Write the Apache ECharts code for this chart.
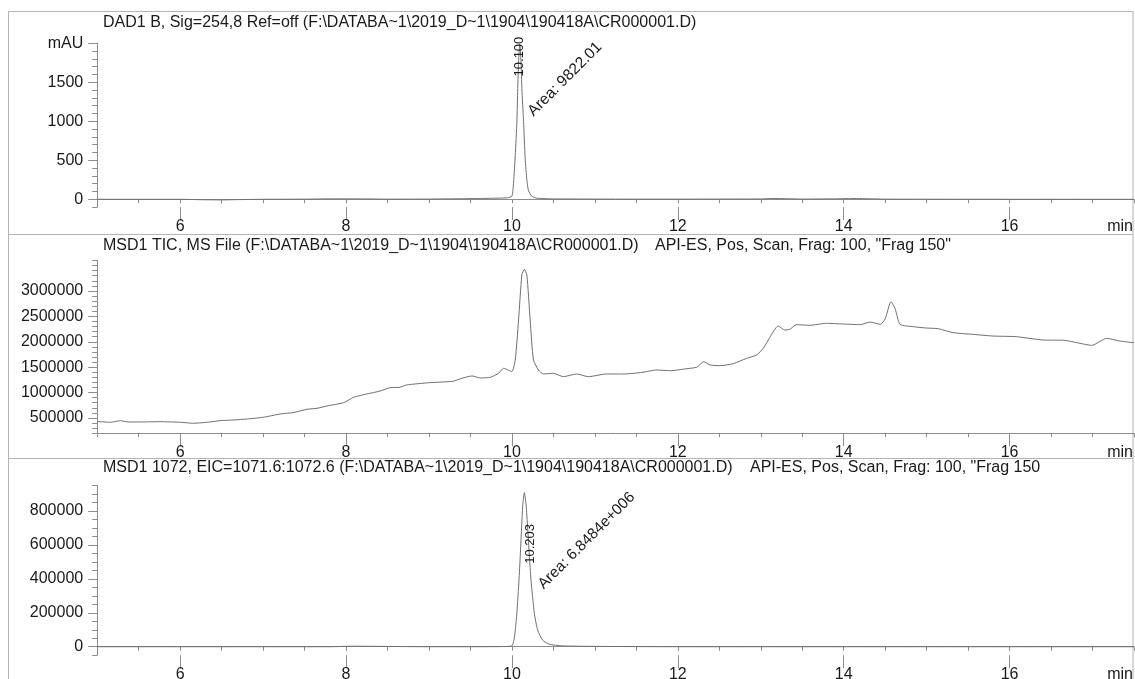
<!DOCTYPE html>
<html>
<head>
<meta charset="utf-8">
<title>Chromatogram</title>
<script src="https://cdn.jsdelivr.net/npm/echarts@6.0.0/dist/echarts.min.js"></script>
<style>
  html, body { margin: 0; padding: 0; background: #fff; }
  #chart { width: 1135px; height: 679px; }
</style>
</head>
<body>
<div id="chart"></div>
<script>
// ── Data ──
// retention time axis, minutes
const X_MIN = 5, X_MAX = 17.5, X_STEP = 0.5;
const X_MAJOR = ['6', '8', '10', '12', '14', '16'];

// DAD1 B, 254 nm
const DAD_T = [5.0, 5.5, 6.0, 6.3, 6.5, 6.7, 7.0, 7.5, 7.9, 8.2, 8.5, 9.0, 9.3, 9.6, 9.8, 9.95, 10.0, 10.02, 10.04, 10.06, 10.07, 10.08, 10.095, 10.11, 10.12, 10.14, 10.16, 10.18, 10.2, 10.24, 10.3, 10.5, 11.0, 11.5, 12.0, 12.5, 13.0, 13.15, 13.3, 13.5, 13.9, 14.1, 14.35, 14.5, 15.0, 16.0, 17.0, 17.5];
const DAD_V = [0, 0, 0, -6, -8, -4, 0, 2, 6, 5, 2, 3, 6, 10, 14, 20, 40, 220, 560, 1000, 1420, 1760, 1990, 1760, 1420, 1000, 520, 250, 110, 40, 15, 5, 3, 2, 2, 3, 4, 10, 8, 3, 6, 10, 6, 2, 1, 0, 0, 0];
const DAD_Y_MAJOR = ['0', '500', '1000', '1500', '2000'];

// MSD1 TIC
const TIC_T = [5.0, 5.16, 5.28, 5.37, 5.52, 5.76, 6.0, 6.16, 6.36, 6.48, 6.64, 6.81, 7.0, 7.21, 7.36, 7.53, 7.65, 7.77, 7.97, 8.09, 8.17, 8.25, 8.41, 8.53, 8.65, 8.73, 9.01, 9.29, 9.38, 9.52, 9.62, 9.74, 9.84, 9.9, 9.96, 10.0, 10.04, 10.08, 10.12, 10.15, 10.18, 10.22, 10.26, 10.32, 10.38, 10.5, 10.62, 10.78, 10.92, 11.14, 11.34, 11.55, 11.75, 11.91, 12.11, 12.23, 12.31, 12.39, 12.51, 12.67, 12.83, 12.95, 13.03, 13.11, 13.21, 13.29, 13.35, 13.43, 13.59, 13.79, 13.99, 14.2, 14.32, 14.44, 14.5, 14.57, 14.62, 14.68, 14.84, 15.0, 15.14, 15.32, 15.56, 15.8, 16.08, 16.41, 16.65, 16.85, 16.99, 17.17, 17.33, 17.5];
const TIC_V = [430000, 415000, 447000, 421000, 421000, 427000, 415000, 396000, 421000, 447000, 460000, 480000, 513000, 579000, 604000, 671000, 690000, 736000, 801000, 907000, 940000, 972000, 1030000, 1096000, 1104000, 1150000, 1195000, 1222000, 1274000, 1327000, 1287000, 1300000, 1380000, 1478000, 1440000, 1411000, 1642000, 2429000, 3315000, 3427000, 3315000, 2429000, 1642000, 1445000, 1366000, 1380000, 1313000, 1366000, 1313000, 1366000, 1366000, 1392000, 1445000, 1430000, 1471000, 1500000, 1608000, 1543000, 1530000, 1570000, 1674000, 1740000, 1871000, 2087000, 2311000, 2232000, 2245000, 2337000, 2324000, 2363000, 2350000, 2337000, 2389000, 2343000, 2450000, 2790000, 2650000, 2343000, 2297000, 2270000, 2257000, 2179000, 2146000, 2113000, 2100000, 2034000, 2030000, 1969000, 1929000, 2067000, 2014000, 1982000];
const TIC_Y_MAJOR = ['500000', '1000000', '1500000', '2000000', '2500000', '3000000'];

// MSD1 EIC 1072
const EIC_T = [5.0, 6.0, 7.0, 7.8, 8.1, 8.4, 9.0, 9.5, 9.9, 10.0, 10.025, 10.04, 10.06, 10.085, 10.1, 10.13, 10.15, 10.17, 10.19, 10.21, 10.23, 10.27, 10.31, 10.37, 10.45, 10.6, 11.0, 12.0, 13.0, 14.0, 15.0, 16.0, 17.0, 17.5];
const EIC_V = [0, 0, 0, 0, 3000, 2000, 0, 0, 1000, 5000, 39000, 98000, 198000, 393000, 530000, 830000, 908000, 840000, 700000, 540000, 393000, 198000, 98000, 39000, 15000, 5000, 2000, 0, 0, 0, 0, 0, 0, 0];
const EIC_Y_MAJOR = ['0', '200000', '400000', '600000', '800000'];

// peak annotations
const DAD_NOTES = ['10.100', 'Area: 9822.01'];
const EIC_NOTES = ['10.203', 'Area: 6.8484e+006'];

// titles
const TITLE_DAD = 'DAD1 B, Sig=254,8 Ref=off (F:\\DATABA~1\\2019_D~1\\1904\\190418A\\CR000001.D)';
const TITLE_TIC = 'MSD1 TIC, MS File (F:\\DATABA~1\\2019_D~1\\1904\\190418A\\CR000001.D)';
const TITLE_EIC = 'MSD1 1072, EIC=1071.6:1072.6 (F:\\DATABA~1\\2019_D~1\\1904\\190418A\\CR000001.D)';
const TITLE_MS = 'API-ES, Pos, Scan, Frag: 100, "Frag 150"';
const TITLE_MS2 = 'API-ES, Pos, Scan, Frag: 100, "Frag 150';

// ── Style ──
const FONT = '"Liberation Sans", Arial, sans-serif';
const TEXT = '#1a1a1a';
const AXIS = '#8c8c8c';
const TRACE = '#707070';
const FRAME = '#b4b4b4';

function cats(min, max, step) {
  const out = [];
  for (let v = min; v <= max + step / 2; v += step) out.push(String(+v.toFixed(3)));
  return out;
}
const xCats = cats(X_MIN, X_MAX, X_STEP);

const PANELS = [
  { top: 43.3, height: 163.8, ymin: -100, ymax: 2000, ystep: 100, major: DAD_Y_MAJOR, t: DAD_T, v: DAD_V, unit: 'mAU' },
  { top: 260.5, height: 172.7, ymin: 200000, ymax: 3600000, ystep: 100000, major: TIC_Y_MAJOR, t: TIC_T, v: TIC_V },
  { top: 485.6, height: 169.6, ymin: -50000, ymax: 950000, ystep: 50000, major: EIC_Y_MAJOR, t: EIC_T, v: EIC_V },
];

const grid = [], xAxis = [], yAxis = [], series = [];

PANELS.forEach((p, i) => {
  grid.push({ left: 97.2, right: 1, top: p.top, height: p.height, outerBoundsMode: 'none', containLabel: false });

  // value axes carry the data and the short ticks
  xAxis.push({
    type: 'value', gridIndex: i, position: 'bottom', min: X_MIN, max: X_MAX, interval: X_STEP,
    axisLine: { show: true, lineStyle: { color: AXIS, width: 1 } },
    axisTick: { show: true, length: 4, lineStyle: { color: AXIS } },
    axisLabel: { show: false }, splitLine: { show: false },
  });
  // category axes give the long major ticks and the labels
  xAxis.push({
    type: 'category', gridIndex: i, position: 'bottom', offset: 0, boundaryGap: false, data: xCats,
    axisLine: { show: false },
    axisTick: { show: true, length: 13, interval: (idx, val) => X_MAJOR.includes(val), lineStyle: { color: AXIS } },
    axisLabel: { interval: (idx, val) => X_MAJOR.includes(val), margin: 11, color: TEXT, fontSize: 16, fontFamily: FONT },
    name: 'min', nameLocation: 'end', nameGap: -1,
    nameTextStyle: { color: TEXT, fontSize: 16, fontFamily: FONT, align: 'right', verticalAlign: 'top', padding: [11, 0, 0, 0] },
  });

  const yCats = cats(p.ymin, p.ymax, p.ystep);
  yAxis.push({
    type: 'value', gridIndex: i, position: 'left', min: p.ymin, max: p.ymax, interval: p.ystep,
    axisLine: { show: true, lineStyle: { color: AXIS, width: 1 } },
    axisTick: { show: true, length: 5, lineStyle: { color: AXIS } },
    axisLabel: { show: false }, splitLine: { show: false },
  });
  yAxis.push({
    type: 'category', gridIndex: i, position: 'left', offset: 0, boundaryGap: false, data: yCats,
    axisLine: { show: false },
    axisTick: { show: true, length: 9, interval: (idx, val) => p.major.includes(val), lineStyle: { color: AXIS } },
    axisLabel: {
      interval: (idx, val) => p.major.includes(val), margin: 14, color: TEXT, fontSize: 16, fontFamily: FONT,
      formatter: v => (p.unit && v === p.major[p.major.length - 1]) ? p.unit : v,
    },
  });

  series.push({
    type: 'line', xAxisIndex: i * 2, yAxisIndex: i * 2,
    data: p.t.map((t, k) => [t, p.v[k]]),
    symbol: 'none', smooth: 0.2, clip: true,
    lineStyle: { color: TRACE, width: 1 },
  });
});

// peak labels, anchored in data space
const noteLabel = { show: true, position: 'inside', color: TEXT, fontFamily: FONT, formatter: '{b}' };
series[0].markPoint = {
  symbol: 'circle', symbolSize: 0, silent: true, label: noteLabel,
  data: [
    { name: DAD_NOTES[0], coord: [10.095, 1830], label: { rotate: 90, fontSize: 13 } },
    { name: DAD_NOTES[1], coord: [10.64, 1540], label: { rotate: 45, fontSize: 15.5 } },
  ],
};
series[2].markPoint = {
  symbol: 'circle', symbolSize: 0, silent: true, label: noteLabel,
  data: [
    { name: EIC_NOTES[0], coord: [10.22, 606000], label: { rotate: 90, fontSize: 13 } },
    { name: EIC_NOTES[1], coord: [10.9, 625000], label: { rotate: 45, fontSize: 15.2 } },
  ],
};

const titleStyle = { color: TEXT, fontSize: 16, fontWeight: 'normal', fontFamily: FONT };
const title = [
  { text: TITLE_DAD, left: 103, top: 14.5, padding: 0, textStyle: titleStyle },
  { text: TITLE_TIC, left: 103, top: 237.5, padding: 0, textStyle: titleStyle },
  { text: TITLE_MS, left: 655, top: 237.5, padding: 0, textStyle: titleStyle },
  { text: TITLE_EIC, left: 103, top: 460, padding: 0, textStyle: titleStyle },
  { text: TITLE_MS2, left: 750, top: 460, padding: 0, textStyle: titleStyle },
];

// panel frames
const frameStyle = { fill: 'none', stroke: FRAME, lineWidth: 1 };
const graphic = [
  { type: 'rect', z: -1, shape: { x: 8.5, y: 11.5, width: 1124.5, height: 223 }, style: frameStyle },
  { type: 'rect', z: -1, shape: { x: 8.5, y: 234.5, width: 1124.5, height: 224 }, style: frameStyle },
  { type: 'rect', z: -1, shape: { x: 8.5, y: 458.5, width: 1124.5, height: 240 }, style: frameStyle },
];

const chart = echarts.init(document.getElementById('chart'), null, { renderer: 'canvas' });
chart.setOption({
  animation: false,
  backgroundColor: '#fff',
  title, grid, xAxis, yAxis, series, graphic,
});
</script>
</body>
</html>
